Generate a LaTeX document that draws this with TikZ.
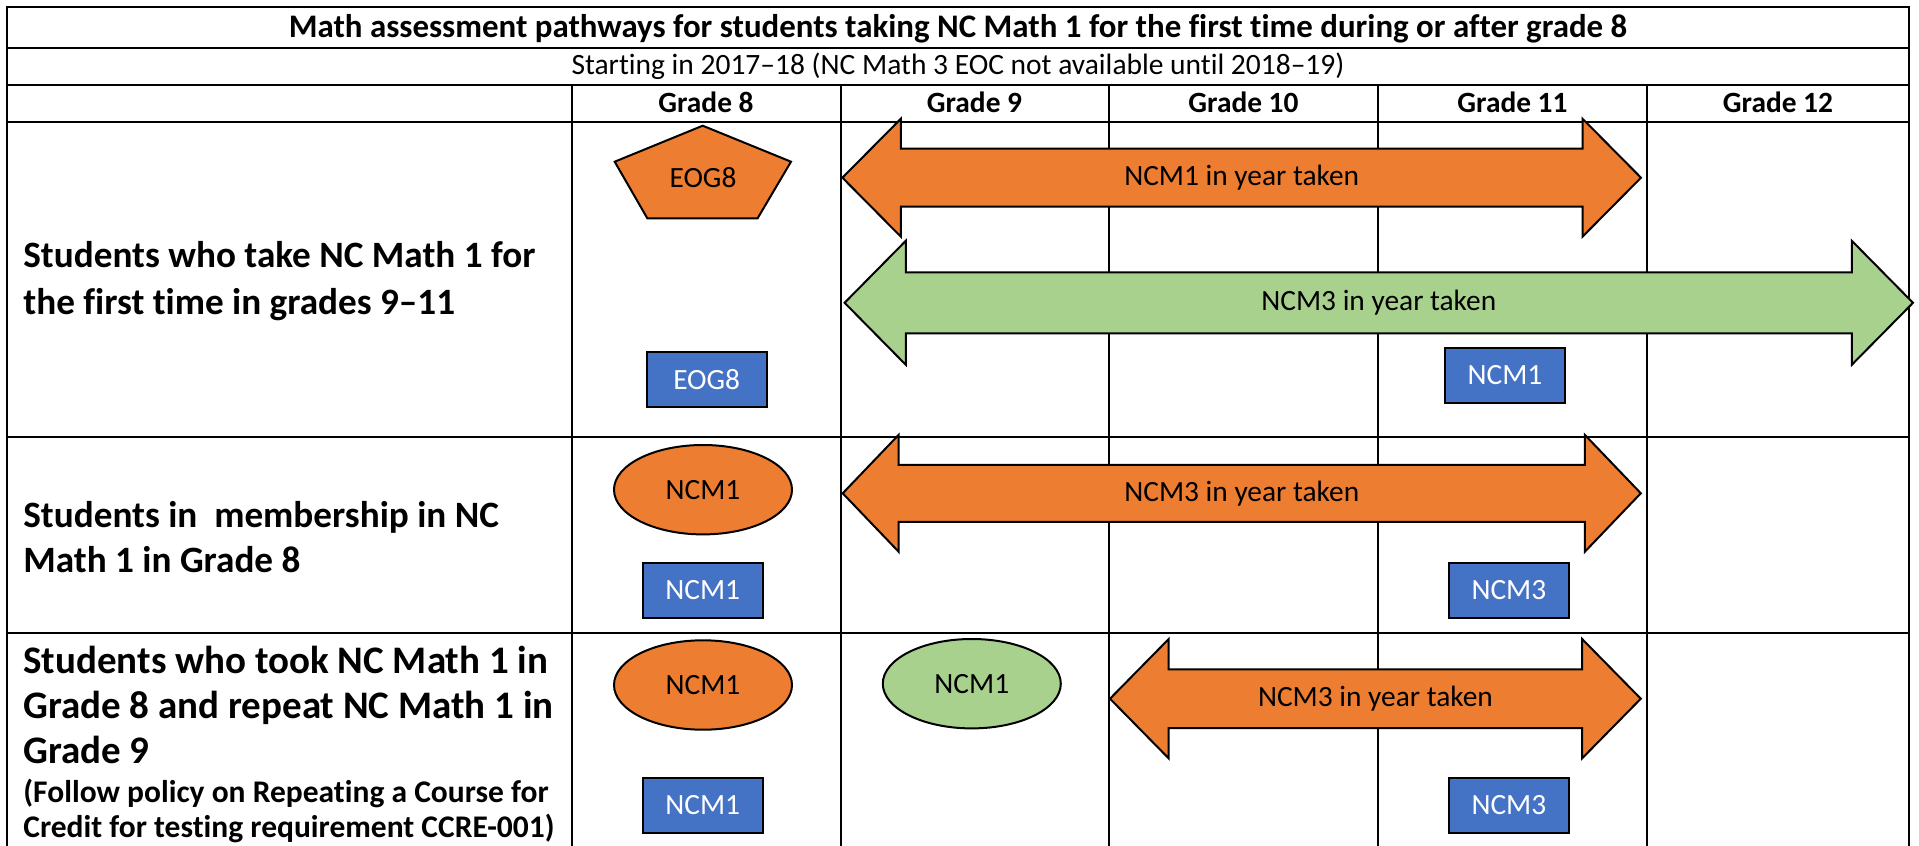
\documentclass[tikz,border=0pt]{standalone}
\usepackage{fontspec}
\setmainfont{Carlito}[Ligatures=NoCommon]
\usetikzlibrary{shapes.geometric}
\definecolor{orng}{HTML}{ED7D31}
\definecolor{grn}{HTML}{A9D18E}
\definecolor{blu}{HTML}{4472C4}
\newcommand\DblArrow[8]{%
  \filldraw[fill=#8, draw=black, line width=1pt, line join=miter]
    (#1,#3) -- (#1+#4,#3-#5) -- (#1+#4,#3-#6) -- (#2-#4,#3-#6) -- (#2-#4,#3-#5)
    -- (#2,#3) -- (#2-#4,#3+#5) -- (#2-#4,#3+#6) -- (#1+#4,#3+#6) -- (#1+#4,#3+#5) -- cycle;
  \node[lbl] (#7) at ({(#1+#2)/2},#3) {NCM#7};
}
\begin{document}
\begin{tikzpicture}[x=0.5pt,y=-0.5pt,
  grid/.style={line width=1pt, line cap=rect},
  ttl/.style={font=\bfseries\fontsize{16.45}{19}\selectfont, anchor=base, inner sep=0},
  sub/.style={font=\fontsize{14.75}{17}\selectfont, anchor=base, inner sep=0},
  hdr/.style={font=\bfseries\fontsize{14.7}{17}\selectfont, anchor=base, inner sep=0},
  rowl/.style={font=\bfseries\fontsize{18.6}{22}\selectfont, anchor=base west, inner sep=0},
  rowm/.style={font=\bfseries\fontsize{19.5}{23}\selectfont, anchor=base west, inner sep=0},
  rows/.style={font=\bfseries\fontsize{15.75}{18}\selectfont, anchor=base west, inner sep=0},
  lbl/.style={font=\fontsize{14.7}{17}\selectfont, inner sep=0},
  bluebox/.style={draw=black, fill=blu, line width=1pt, minimum width=60pt, minimum height=27.5pt, inner sep=0, text=white, font=\fontsize{14.7}{17}\selectfont},
  oval/.style={ellipse, draw=black, line width=1pt, minimum width=89pt, minimum height=44.7pt, inner sep=0, font=\fontsize{14.7}{17}\selectfont},
]
\useasboundingbox (0,0) rectangle (1919,846);
\fill[white] (0,0) rectangle (1919,846);
% table lines
\draw[grid] (7,846) -- (7,7) -- (1909,7) -- (1909,846);
\foreach \yy in {48,85,122,437,633} \draw[grid] (7,\yy) -- (1909,\yy);
\foreach \xx in {572,840.5,1109,1378,1647} \draw[grid] (\xx,85) -- (\xx,846);
% header texts
\node[ttl] (title) at (958,37) {Math assessment pathways for students taking NC Math 1 for the first time during or after grade 8};
\node[sub] (subtitle) at (958,74) {Starting in 2017–18 (NC Math 3 EOC not available until 2018–19)};
\node[hdr] (g8) at (706,112.5) {Grade 8};
\node[hdr] (g9) at (974.5,112.5) {Grade 9};
\node[hdr] (g10) at (1243.5,112.5) {Grade 10};
\node[hdr] (g11) at (1512.5,112.5) {Grade 11};
\node[hdr] (g12) at (1778,112.5) {Grade 12};
% row labels
\node[rowl] (r1a) at (23,267) {Students who take NC Math 1 for};
\node[rowl] (r1b) at (23,314) {the first time in grades 9–11};
\node[rowl] (r2a) at (23,527) {Students in\ \ membership in NC};
\node[rowl] (r2b) at (23,572) {Math 1 in Grade 8};
\node[rowm] (r3a) at (23,673) {Students who took NC Math 1 in};
\node[rowm] (r3b) at (23,718) {Grade 8 and repeat NC Math 1 in};
\node[rowm] (r3c) at (23,763) {Grade 9};
\node[rows] (r3d) at (23,802) {(Follow policy on Repeating a Course for};
\node[rows] (r3e) at (23,837) {Credit for testing requirement CCRE-001)};
% arrows
\DblArrow{842.4}{1641}{177.7}{58.5}{59}{29}{1 in year taken}{orng}
\DblArrow{844.6}{1913}{302.8}{61.2}{62}{30.5}{3 in year taken}{grn}
\DblArrow{842.7}{1640.8}{493.3}{56}{58.5}{28.5}{3 in year taken }{orng}
\DblArrow{1110}{1640.8}{698.7}{58.7}{59.7}{29.3}{3 in year taken  }{orng}
% pentagon
\filldraw[fill=orng, draw=black, line width=1pt, line join=miter] (702.7,125.7) -- (791,161.7) -- (757.6,218.3) -- (647.3,218.3) -- (614.7,161.7) -- cycle;
\node[lbl] (eog8p) at (703,178) {EOG8};
% blue boxes
\node[bluebox] (b1) at (706.7,379.5) {EOG8};
\node[bluebox] (b2) at (1505,375) {NCM1};
\node[bluebox] (b3) at (702.7,590.2) {NCM1};
\node[bluebox] (b4) at (1508.9,590) {NCM3};
\node[bluebox] (b5) at (702.7,805.2) {NCM1};
\node[bluebox] (b6) at (1508.9,805.2) {NCM3};
% ellipses
\node[oval, fill=orng] (e1) at (703,489.7) {NCM1};
\node[oval, fill=orng] (e2) at (703,685) {NCM1};
\node[oval, fill=grn] (e3) at (971.8,683.7) {NCM1};
\end{tikzpicture}
\end{document}
